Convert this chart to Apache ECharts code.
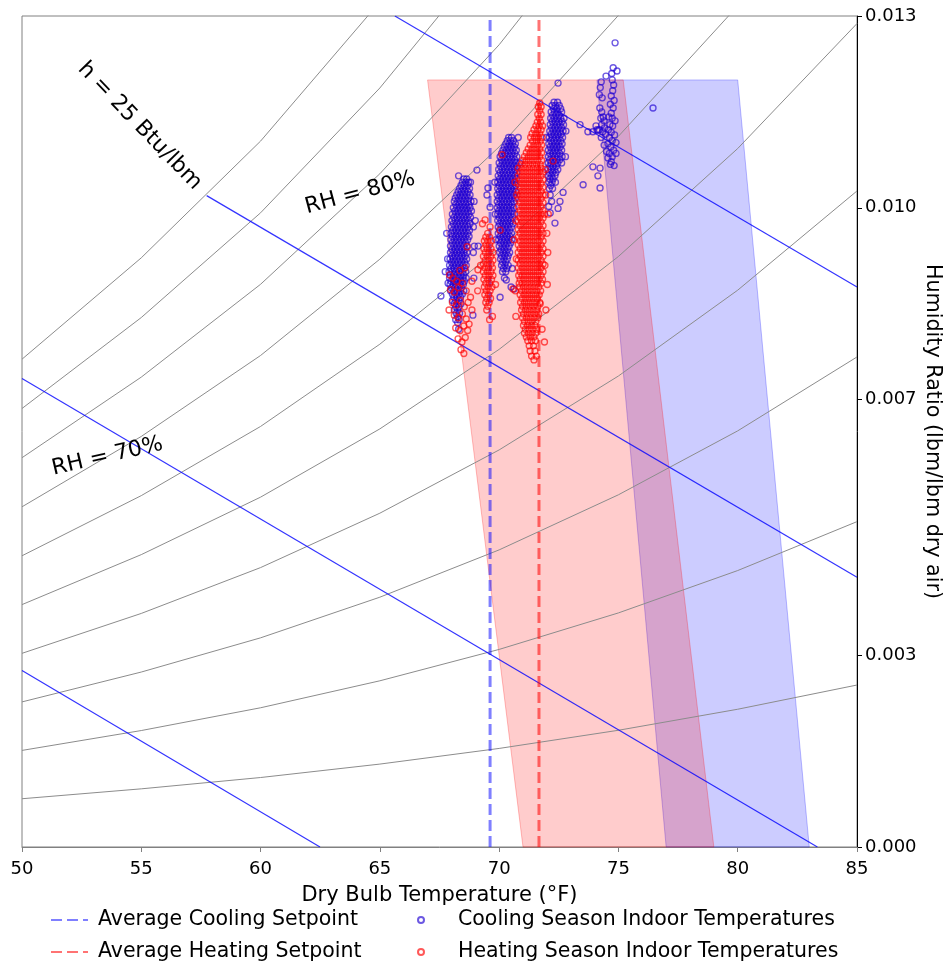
<!DOCTYPE html>
<html>
<head>
<meta charset="utf-8">
<script src="https://cdn.jsdelivr.net/npm/echarts@6/dist/echarts.min.js"></script>
<style>
html, body { margin: 0; padding: 0; background: #fff; }
#main { width: 943px; height: 964px; }
</style>
</head>
<body>
<div id="main"></div>
<script>
// dry bulb temperatures where the RH curves were sampled
var temps = [50, 55, 60, 65, 70, 75, 80, 85];
// humidity ratio of each relative humidity curve at those temperatures
var rh10 = [0.000755, 0.000910, 0.001087, 0.001297, 0.001542, 0.001826, 0.002155, 0.002534];
var rh20 = [0.001511, 0.001822, 0.002178, 0.002600, 0.003091, 0.003662, 0.004325, 0.005090];
var rh30 = [0.002270, 0.002737, 0.003272, 0.003908, 0.004648, 0.005510, 0.006510, 0.007666];
var rh40 = [0.003030, 0.003654, 0.004371, 0.005222, 0.006212, 0.007368, 0.008711, 0.010263];
var rh50 = [0.003792, 0.004574, 0.005473, 0.006541, 0.007785, 0.009238, 0.010927, 0.012882];
var rh60 = [0.004556, 0.005497, 0.006579, 0.007866, 0.009365, 0.011118, 0.013158, 0.015523];
var rh70 = [0.005322, 0.006423, 0.007689, 0.009196, 0.010953, 0.013010, 0.015405, 0.018186];
var rh80 = [0.006090, 0.007351, 0.008803, 0.010532, 0.012550, 0.014913, 0.017669, 0.020871];
var rh90 = [0.006860, 0.008283, 0.009921, 0.011874, 0.014154, 0.016828, 0.019948, 0.023578];
var rh100 = [0.007631, 0.009217, 0.011043, 0.013221, 0.015767, 0.018754, 0.022244, 0.026309];

// constant enthalpy lines (end points)
var h15 = [[50, 0.00276], [62.49, 0]];
var h20 = [[50, 0.00733], [83.34, 0]];
var h25 = [[57.74, 0.01019], [85, 0.00422]];
var h30 = [[65.63, 0.013], [85, 0.00876]];

// comfort zones
var heatingZone = [[67, 0.012], [75.2, 0.012], [79, 0], [71, 0]];
var coolingZone = [[74.1, 0.012], [80, 0.012], [83, 0], [77, 0]];

var coolingSetpoint = 69.62;
var heatingSetpoint = 71.67;

var yTicks = [0, 0.003, 0.007, 0.010, 0.013];

// cooling season indoor readings
var coolingA = [
[68.52,0.01045],[68.64,0.01045],
[68.46,0.0104],[68.6,0.0104],[68.72,0.0104],
[68.4,0.01035],[68.54,0.01035],[68.68,0.01035],
[68.34,0.0103],[68.48,0.0103],[68.62,0.0103],[68.76,0.0103],
[68.28,0.01025],[68.42,0.01025],[68.56,0.01025],[68.7,0.01025],
[68.22,0.0102],[68.36,0.0102],[68.5,0.0102],[68.64,0.0102],[68.78,0.0102],
[68.16,0.01015],[68.3,0.01015],[68.44,0.01015],[68.58,0.01015],[68.72,0.01015],
[68.12,0.0101],[68.26,0.0101],[68.4,0.0101],[68.54,0.0101],[68.68,0.0101],[68.82,0.0101],
[68.18,0.01005],[68.32,0.01005],[68.46,0.01005],[68.6,0.01005],[68.74,0.01005],
[68.08,0.01],[68.22,0.01],[68.36,0.01],[68.5,0.01],[68.64,0.01],[68.78,0.01],
[68.14,0.00995],[68.28,0.00995],[68.42,0.00995],[68.56,0.00995],[68.7,0.00995],[68.84,0.00995],
[68.04,0.0099],[68.18,0.0099],[68.32,0.0099],[68.46,0.0099],[68.6,0.0099],[68.74,0.0099],
[68.1,0.00985],[68.24,0.00985],[68.38,0.00985],[68.52,0.00985],[68.66,0.00985],[68.8,0.00985],
[68.02,0.0098],[68.16,0.0098],[68.3,0.0098],[68.44,0.0098],[68.58,0.0098],[68.72,0.0098],
[68.08,0.00975],[68.22,0.00975],[68.36,0.00975],[68.5,0.00975],[68.64,0.00975],[68.78,0.00975],
[68,0.0097],[68.14,0.0097],[68.28,0.0097],[68.42,0.0097],[68.56,0.0097],[68.7,0.0097],
[68.06,0.00965],[68.2,0.00965],[68.34,0.00965],[68.48,0.00965],[68.62,0.00965],[68.76,0.00965],
[67.98,0.0096],[68.12,0.0096],[68.26,0.0096],[68.4,0.0096],[68.54,0.0096],[68.68,0.0096],
[68.04,0.00955],[68.18,0.00955],[68.32,0.00955],[68.46,0.00955],[68.6,0.00955],[68.74,0.00955],
[67.98,0.0095],[68.12,0.0095],[68.26,0.0095],[68.4,0.0095],[68.54,0.0095],[68.68,0.0095],
[68.04,0.00945],[68.18,0.00945],[68.32,0.00945],[68.46,0.00945],[68.6,0.00945],
[67.96,0.0094],[68.1,0.0094],[68.24,0.0094],[68.38,0.0094],[68.52,0.0094],[68.66,0.0094],
[68.02,0.00935],[68.16,0.00935],[68.3,0.00935],[68.44,0.00935],[68.58,0.00935],
[67.96,0.0093],[68.1,0.0093],[68.24,0.0093],[68.38,0.0093],[68.52,0.0093],[68.66,0.0093],
[68.02,0.00925],[68.16,0.00925],[68.3,0.00925],[68.44,0.00925],[68.58,0.00925],
[67.94,0.0092],[68.08,0.0092],[68.22,0.0092],[68.36,0.0092],[68.5,0.0092],[68.64,0.0092],
[68,0.00915],[68.14,0.00915],[68.28,0.00915],[68.42,0.00915],[68.56,0.00915],
[67.92,0.0091],[68.06,0.0091],[68.2,0.0091],[68.34,0.0091],[68.48,0.0091],[68.62,0.0091],
[67.98,0.00905],[68.12,0.00905],[68.26,0.00905],[68.4,0.00905],[68.54,0.00905],
[67.9,0.009],[68.04,0.009],[68.18,0.009],[68.32,0.009],[68.46,0.009],[68.6,0.009],
[67.96,0.00895],[68.1,0.00895],[68.24,0.00895],[68.38,0.00895],[68.52,0.00895],
[67.92,0.0089],[68.06,0.0089],[68.2,0.0089],[68.34,0.0089],[68.48,0.0089],[68.62,0.0089],
[67.98,0.00885],[68.12,0.00885],[68.26,0.00885],[68.4,0.00885],[68.54,0.00885],
[67.94,0.0088],[68.08,0.0088],[68.22,0.0088],[68.36,0.0088],[68.5,0.0088],
[68,0.00875],[68.14,0.00875],[68.28,0.00875],[68.42,0.00875],
[67.96,0.0087],[68.1,0.0087],[68.24,0.0087],[68.38,0.0087],[68.52,0.0087],
[68.04,0.00865],[68.18,0.00865],[68.32,0.00865],[68.46,0.00865],
[68.1,0.0086],[68.24,0.0086],[68.38,0.0086],
[68.04,0.00855],[68.18,0.00855],[68.32,0.00855],
[68.12,0.0085],[68.26,0.0085],[68.4,0.0085],
[68.18,0.00845],[68.32,0.00845],
[68.12,0.0084],[68.26,0.0084],
[68.2,0.00835],[68.34,0.00835],
[68.26,0.0083],
[68.18,0.00825],[68.32,0.00825],
[68.26,0.0082],
[68.3,0.0081]
];
var coolingB = [
[70.4,0.0111],[70.52,0.0111],
[70.34,0.01105],[70.48,0.01105],[70.6,0.01105],
[70.28,0.011],[70.42,0.011],[70.56,0.011],[70.68,0.011],
[70.22,0.01095],[70.36,0.01095],[70.5,0.01095],[70.64,0.01095],
[70.16,0.0109],[70.3,0.0109],[70.44,0.0109],[70.58,0.0109],[70.72,0.0109],
[70.1,0.01085],[70.24,0.01085],[70.38,0.01085],[70.52,0.01085],[70.66,0.01085],
[70.04,0.0108],[70.18,0.0108],[70.32,0.0108],[70.46,0.0108],[70.6,0.0108],[70.74,0.0108],
[70.1,0.01075],[70.24,0.01075],[70.38,0.01075],[70.52,0.01075],[70.66,0.01075],
[70,0.0107],[70.14,0.0107],[70.28,0.0107],[70.42,0.0107],[70.56,0.0107],[70.7,0.0107],
[70.06,0.01065],[70.2,0.01065],[70.34,0.01065],[70.48,0.01065],[70.62,0.01065],[70.76,0.01065],
[69.98,0.0106],[70.12,0.0106],[70.26,0.0106],[70.4,0.0106],[70.54,0.0106],[70.68,0.0106],
[70.04,0.01055],[70.18,0.01055],[70.32,0.01055],[70.46,0.01055],[70.6,0.01055],[70.74,0.01055],
[69.96,0.0105],[70.1,0.0105],[70.24,0.0105],[70.38,0.0105],[70.52,0.0105],[70.66,0.0105],
[70.02,0.01045],[70.16,0.01045],[70.3,0.01045],[70.44,0.01045],[70.58,0.01045],[70.72,0.01045],
[69.94,0.0104],[70.08,0.0104],[70.22,0.0104],[70.36,0.0104],[70.5,0.0104],[70.64,0.0104],
[70,0.01035],[70.14,0.01035],[70.28,0.01035],[70.42,0.01035],[70.56,0.01035],[70.7,0.01035],
[69.94,0.0103],[70.08,0.0103],[70.22,0.0103],[70.36,0.0103],[70.5,0.0103],[70.64,0.0103],
[70,0.01025],[70.14,0.01025],[70.28,0.01025],[70.42,0.01025],[70.56,0.01025],[70.7,0.01025],
[69.92,0.0102],[70.06,0.0102],[70.2,0.0102],[70.34,0.0102],[70.48,0.0102],[70.62,0.0102],
[69.98,0.01015],[70.12,0.01015],[70.26,0.01015],[70.4,0.01015],[70.54,0.01015],[70.68,0.01015],
[69.92,0.0101],[70.06,0.0101],[70.2,0.0101],[70.34,0.0101],[70.48,0.0101],[70.62,0.0101],
[69.98,0.01005],[70.12,0.01005],[70.26,0.01005],[70.4,0.01005],[70.54,0.01005],
[69.92,0.01],[70.06,0.01],[70.2,0.01],[70.34,0.01],[70.48,0.01],[70.62,0.01],
[69.98,0.00995],[70.12,0.00995],[70.26,0.00995],[70.4,0.00995],[70.54,0.00995],
[69.94,0.0099],[70.08,0.0099],[70.22,0.0099],[70.36,0.0099],[70.5,0.0099],[70.64,0.0099],
[70,0.00985],[70.14,0.00985],[70.28,0.00985],[70.42,0.00985],[70.56,0.00985],
[69.94,0.0098],[70.08,0.0098],[70.22,0.0098],[70.36,0.0098],[70.5,0.0098],
[70.02,0.00975],[70.16,0.00975],[70.3,0.00975],[70.44,0.00975],[70.58,0.00975],
[69.96,0.0097],[70.1,0.0097],[70.24,0.0097],[70.38,0.0097],[70.52,0.0097],
[70.02,0.00965],[70.16,0.00965],[70.3,0.00965],[70.44,0.00965],
[69.96,0.0096],[70.1,0.0096],[70.24,0.0096],[70.38,0.0096],[70.52,0.0096],
[70.04,0.00955],[70.18,0.00955],[70.32,0.00955],[70.46,0.00955],
[69.98,0.0095],[70.12,0.0095],[70.26,0.0095],[70.4,0.0095],[70.54,0.0095],
[70.06,0.00945],[70.2,0.00945],[70.34,0.00945],[70.48,0.00945],
[70,0.0094],[70.14,0.0094],[70.28,0.0094],[70.42,0.0094],
[70.08,0.00935],[70.22,0.00935],[70.36,0.00935],
[70.02,0.0093],[70.16,0.0093],[70.3,0.0093],[70.44,0.0093],
[70.1,0.00925],[70.24,0.00925],[70.38,0.00925],
[70.06,0.0092],[70.2,0.0092],[70.34,0.0092],
[70.14,0.00915],[70.28,0.00915],
[70.1,0.0091],[70.24,0.0091],[70.38,0.0091],
[70.18,0.00905],[70.32,0.00905],
[70.14,0.009],[70.28,0.009],
[70.22,0.0089]
];
var coolingC = [
[72.3,0.01165],[72.45,0.01165],
[72.22,0.0116],[72.36,0.0116],[72.52,0.0116],
[72.28,0.01155],[72.42,0.01155],[72.58,0.01155],
[72.18,0.0115],[72.32,0.0115],[72.46,0.0115],[72.62,0.0115],
[72.24,0.01145],[72.38,0.01145],[72.52,0.01145],
[72.16,0.0114],[72.3,0.0114],[72.44,0.0114],[72.58,0.0114],[72.72,0.0114],
[72.22,0.01135],[72.36,0.01135],[72.5,0.01135],[72.64,0.01135],
[72.14,0.0113],[72.28,0.0113],[72.42,0.0113],[72.56,0.0113],[72.7,0.0113],
[72.2,0.01125],[72.34,0.01125],[72.48,0.01125],[72.62,0.01125],
[72.12,0.0112],[72.26,0.0112],[72.4,0.0112],[72.54,0.0112],[72.68,0.0112],
[72.18,0.01115],[72.32,0.01115],[72.46,0.01115],[72.6,0.01115],
[72.1,0.0111],[72.24,0.0111],[72.38,0.0111],[72.52,0.0111],[72.66,0.0111],
[72.16,0.01105],[72.3,0.01105],[72.44,0.01105],[72.58,0.01105],
[72.08,0.011],[72.22,0.011],[72.36,0.011],[72.5,0.011],[72.64,0.011],
[72.14,0.01095],[72.28,0.01095],[72.42,0.01095],[72.56,0.01095],
[72.06,0.0109],[72.2,0.0109],[72.34,0.0109],[72.48,0.0109],[72.62,0.0109],
[72.12,0.01085],[72.26,0.01085],[72.4,0.01085],[72.54,0.01085],
[72.06,0.0108],[72.2,0.0108],[72.34,0.0108],[72.48,0.0108],[72.64,0.0108],
[72.12,0.01075],[72.26,0.01075],[72.4,0.01075],[72.54,0.01075],
[72.05,0.0107],[72.18,0.0107],[72.32,0.0107],[72.46,0.0107],[72.62,0.0107],
[72.12,0.01065],[72.26,0.01065],[72.4,0.01065],
[72.04,0.0106],[72.18,0.0106],[72.32,0.0106],[72.46,0.0106],
[72.1,0.01055],[72.24,0.01055],[72.38,0.01055],
[72.06,0.0105],[72.2,0.0105],[72.34,0.0105],
[72.12,0.01045],[72.26,0.01045],
[72.08,0.0104],[72.22,0.0104],[72.36,0.0104],
[72.16,0.01035],
[72.1,0.0103],[72.24,0.0103],
[72.14,0.0102],
[72.2,0.0101]
];
var coolingD = [
[74.28,0.01197],[74.24,0.01188],[74.2,0.01177],[74.32,0.01172],[74.22,0.01156],[74.3,0.0115],
[74.36,0.01142],[74.26,0.0114],[74.4,0.01136],[74.3,0.0113],[74.42,0.01125],[74.34,0.01119],
[74.46,0.01115],[74.2,0.01122],
[74.78,0.01219],[74.72,0.0121],[74.74,0.012],[74.8,0.01192],[74.76,0.01183],[74.7,0.01175],
[74.82,0.01168],[74.66,0.01162],[74.78,0.01156],[74.7,0.01148],[74.6,0.01142],[74.74,0.0114],
[74.86,0.01136],[74.64,0.0113],[74.76,0.01128],[74.58,0.01122],[74.7,0.01118],[74.84,0.01114],
[74.62,0.0111],[74.74,0.01105],[74.9,0.01102],[74.56,0.011],[74.68,0.01095],[74.8,0.0109],
[74.62,0.01085],[74.74,0.0108],[74.9,0.01085],[74.7,0.01072],[74.82,0.01066],
[74.06,0.01128],[74.14,0.01121],[74.28,0.0111],[74.4,0.01098],[74.5,0.01088],[74.56,0.01078],[74.66,0.01068]
];
var coolingOther = [
[67.56,0.00862],[67.74,0.009],[67.86,0.00882],[69.07,0.01059],[69.53,0.01031],[69.49,0.0102],
[69.62,0.01001],[70.04,0.0086],[68.9,0.00832],[70.3,0.00887],[70.5,0.00876],[70.62,0.00873],
[70.55,0.00905],[68.95,0.0101],[69,0.0098],[68.92,0.0093],[69.12,0.0094],
[72.47,0.01195],[73.39,0.0113],[73.72,0.01119],[73.93,0.01119],[74.1,0.01122],[73.93,0.01064],
[73.52,0.01036],[74.23,0.01031],[74.14,0.0105],[74.23,0.01062],[72.55,0.0101],[72.34,0.00976],
[72.47,0.00999],[72.14,0.00992],[72.68,0.01024],[72.08,0.01002],[74.86,0.01258],[76.45,0.01156],
[74.94,0.01214],[74.48,0.01206],
[67.8,0.0096],[67.84,0.0092],[68.92,0.0097],[68.96,0.0094],[68.94,0.0089],[68.8,0.0104],
[68.3,0.0105],[69.82,0.0104],[69.84,0.0099],[69.86,0.0095],[70.86,0.0107],[70.8,0.0111],
[72.8,0.0112],[72.78,0.0108],[71.98,0.0111]
];

// heating season indoor readings
var heatingE = [
[67.92,0.00895],[68.06,0.0089],[68.22,0.00885],[67.96,0.00872],[68.12,0.00868],[68.3,0.00875],
[68.46,0.00882],[68.62,0.0087],[68.04,0.00852],[68.2,0.00848],[68.38,0.00855],[68.54,0.00845],
[68.7,0.00852],[67.9,0.0084],[68.12,0.00832],[68.28,0.00828],[68.46,0.00834],[68.62,0.00826],
[68.18,0.00812],[68.36,0.00808],[68.52,0.00815],[68.68,0.00808],[68.28,0.00795],[68.44,0.0079],
[68.58,0.00797],[68.4,0.00778],[68.52,0.00772],[68.66,0.00939],[68.57,0.00906],[68.8,0.0086],
[68.86,0.00885],[68.74,0.00818],[68.36,0.00902]
];
var heatingF = [
[69.52,0.0096],
[69.44,0.00954],[69.6,0.00954],
[69.38,0.00948],[69.52,0.00948],[69.68,0.00948],
[69.44,0.00942],[69.6,0.00942],
[69.36,0.00936],[69.5,0.00936],[69.66,0.00936],
[69.42,0.0093],[69.58,0.0093],[69.74,0.0093],
[69.34,0.00924],[69.5,0.00924],[69.66,0.00924],
[69.42,0.00918],[69.58,0.00918],[69.74,0.00918],
[69.34,0.00912],[69.5,0.00912],[69.66,0.00912],
[69.4,0.00906],[69.56,0.00906],[69.72,0.00906],
[69.34,0.009],[69.5,0.009],[69.66,0.009],
[69.42,0.00894],[69.58,0.00894],[69.74,0.00894],
[69.36,0.00888],[69.52,0.00888],[69.68,0.00888],
[69.44,0.00882],[69.6,0.00882],
[69.38,0.00876],[69.54,0.00876],[69.7,0.00876],
[69.46,0.0087],[69.62,0.0087],
[69.4,0.00864],[69.56,0.00864],
[69.48,0.00858],[69.64,0.00858],
[69.44,0.00852],[69.58,0.00852],
[69.52,0.00846],
[69.48,0.0084],
[69.3,0.00975],[69.41,0.00981],[69.62,0.0097],[70.04,0.00965],[69.22,0.0091],[69.85,0.0088],
[69.1,0.0087],[69.72,0.0083],[69.6,0.00825],[69.11,0.00903],[68.86,0.0084]
];
var heatingG = [
[71.7,0.01164],
[71.64,0.01158],[71.76,0.01158],
[71.7,0.01152],
[71.62,0.01146],[71.76,0.01146],
[71.68,0.0114],
[71.6,0.01134],[71.74,0.01134],
[71.54,0.01128],[71.68,0.01128],[71.82,0.01128],
[71.46,0.01122],[71.62,0.01122],[71.76,0.01122],
[71.38,0.01116],[71.54,0.01116],[71.7,0.01116],
[71.32,0.0111],[71.48,0.0111],[71.64,0.0111],[71.8,0.0111],
[71.4,0.01104],[71.56,0.01104],[71.72,0.01104],
[71.3,0.01098],[71.46,0.01098],[71.62,0.01098],[71.78,0.01098],
[71.22,0.01092],[71.38,0.01092],[71.54,0.01092],[71.7,0.01092],
[71.14,0.01086],[71.3,0.01086],[71.46,0.01086],[71.62,0.01086],[71.78,0.01086],
[71.06,0.0108],[71.22,0.0108],[71.38,0.0108],[71.54,0.0108],[71.7,0.0108],
[70.98,0.01074],[71.14,0.01074],[71.3,0.01074],[71.46,0.01074],[71.62,0.01074],[71.78,0.01074],
[70.92,0.01068],[71.08,0.01068],[71.24,0.01068],[71.4,0.01068],[71.56,0.01068],[71.72,0.01068],
[70.8,0.01062],[70.96,0.01062],[71.12,0.01062],[71.28,0.01062],[71.44,0.01062],[71.6,0.01062],[71.76,0.01062],
[70.88,0.01056],[71.04,0.01056],[71.2,0.01056],[71.36,0.01056],[71.52,0.01056],[71.68,0.01056],[71.84,0.01056],
[70.8,0.0105],[70.96,0.0105],[71.12,0.0105],[71.28,0.0105],[71.44,0.0105],[71.6,0.0105],[71.76,0.0105],
[70.88,0.01044],[71.04,0.01044],[71.2,0.01044],[71.36,0.01044],[71.52,0.01044],[71.68,0.01044],[71.84,0.01044],
[70.8,0.01038],[70.96,0.01038],[71.12,0.01038],[71.28,0.01038],[71.44,0.01038],[71.6,0.01038],[71.76,0.01038],
[70.88,0.01032],[71.04,0.01032],[71.2,0.01032],[71.36,0.01032],[71.52,0.01032],[71.68,0.01032],[71.84,0.01032],
[70.8,0.01026],[70.96,0.01026],[71.12,0.01026],[71.28,0.01026],[71.44,0.01026],[71.6,0.01026],[71.76,0.01026],
[70.88,0.0102],[71.04,0.0102],[71.2,0.0102],[71.36,0.0102],[71.52,0.0102],[71.68,0.0102],[71.84,0.0102],
[70.8,0.01014],[70.96,0.01014],[71.12,0.01014],[71.28,0.01014],[71.44,0.01014],[71.6,0.01014],[71.76,0.01014],
[70.88,0.01008],[71.04,0.01008],[71.2,0.01008],[71.36,0.01008],[71.52,0.01008],[71.68,0.01008],[71.84,0.01008],
[70.8,0.01002],[70.96,0.01002],[71.12,0.01002],[71.28,0.01002],[71.44,0.01002],[71.6,0.01002],[71.76,0.01002],
[70.88,0.00996],[71.04,0.00996],[71.2,0.00996],[71.36,0.00996],[71.52,0.00996],[71.68,0.00996],[71.84,0.00996],
[70.8,0.0099],[70.96,0.0099],[71.12,0.0099],[71.28,0.0099],[71.44,0.0099],[71.6,0.0099],[71.76,0.0099],
[70.88,0.00984],[71.04,0.00984],[71.2,0.00984],[71.36,0.00984],[71.52,0.00984],[71.68,0.00984],[71.84,0.00984],
[70.8,0.00978],[70.96,0.00978],[71.12,0.00978],[71.28,0.00978],[71.44,0.00978],[71.6,0.00978],[71.76,0.00978],
[70.88,0.00972],[71.04,0.00972],[71.2,0.00972],[71.36,0.00972],[71.52,0.00972],[71.68,0.00972],[71.84,0.00972],
[70.8,0.00966],[70.96,0.00966],[71.12,0.00966],[71.28,0.00966],[71.44,0.00966],[71.6,0.00966],[71.76,0.00966],
[70.88,0.0096],[71.04,0.0096],[71.2,0.0096],[71.36,0.0096],[71.52,0.0096],[71.68,0.0096],[71.84,0.0096],
[70.8,0.00954],[70.96,0.00954],[71.12,0.00954],[71.28,0.00954],[71.44,0.00954],[71.6,0.00954],[71.76,0.00954],
[70.88,0.00948],[71.04,0.00948],[71.2,0.00948],[71.36,0.00948],[71.52,0.00948],[71.68,0.00948],[71.84,0.00948],
[70.8,0.00942],[70.96,0.00942],[71.12,0.00942],[71.28,0.00942],[71.44,0.00942],[71.6,0.00942],[71.76,0.00942],
[70.88,0.00936],[71.04,0.00936],[71.2,0.00936],[71.36,0.00936],[71.52,0.00936],[71.68,0.00936],[71.84,0.00936],
[70.8,0.0093],[70.96,0.0093],[71.12,0.0093],[71.28,0.0093],[71.44,0.0093],[71.6,0.0093],[71.76,0.0093],
[70.88,0.00924],[71.04,0.00924],[71.2,0.00924],[71.36,0.00924],[71.52,0.00924],[71.68,0.00924],[71.84,0.00924],
[70.8,0.00918],[70.96,0.00918],[71.12,0.00918],[71.28,0.00918],[71.44,0.00918],[71.6,0.00918],[71.76,0.00918],
[70.88,0.00912],[71.04,0.00912],[71.2,0.00912],[71.36,0.00912],[71.52,0.00912],[71.68,0.00912],[71.84,0.00912],
[70.8,0.00906],[70.96,0.00906],[71.12,0.00906],[71.28,0.00906],[71.44,0.00906],[71.6,0.00906],[71.76,0.00906],
[70.88,0.009],[71.04,0.009],[71.2,0.009],[71.36,0.009],[71.52,0.009],[71.68,0.009],[71.84,0.009],
[70.82,0.00894],[70.96,0.00894],[71.12,0.00894],[71.28,0.00894],[71.44,0.00894],[71.6,0.00894],[71.76,0.00894],
[70.88,0.00888],[71.04,0.00888],[71.2,0.00888],[71.36,0.00888],[71.52,0.00888],[71.68,0.00888],[71.82,0.00888],
[70.84,0.00882],[70.96,0.00882],[71.12,0.00882],[71.28,0.00882],[71.44,0.00882],[71.6,0.00882],[71.76,0.00882],
[70.86,0.00876],[71.02,0.00876],[71.18,0.00876],[71.34,0.00876],[71.5,0.00876],[71.66,0.00876],
[70.94,0.0087],[71.1,0.0087],[71.26,0.0087],[71.42,0.0087],[71.58,0.0087],[71.74,0.0087],
[70.88,0.00864],[71.04,0.00864],[71.2,0.00864],[71.36,0.00864],[71.52,0.00864],[71.68,0.00864],
[70.96,0.00858],[71.12,0.00858],[71.28,0.00858],[71.44,0.00858],[71.6,0.00858],
[70.9,0.00852],[71.06,0.00852],[71.22,0.00852],[71.38,0.00852],[71.54,0.00852],[71.7,0.00852],
[70.98,0.00846],[71.14,0.00846],[71.3,0.00846],[71.46,0.00846],[71.62,0.00846],
[70.94,0.0084],[71.1,0.0084],[71.26,0.0084],[71.42,0.0084],[71.58,0.0084],
[71.02,0.00834],[71.18,0.00834],[71.34,0.00834],[71.5,0.00834],[71.66,0.00834],
[70.98,0.00828],[71.14,0.00828],[71.3,0.00828],[71.46,0.00828],[71.62,0.00828],
[71.06,0.00822],[71.22,0.00822],[71.38,0.00822],[71.54,0.00822],
[71.02,0.00816],[71.18,0.00816],[71.34,0.00816],[71.5,0.00816],
[71.1,0.0081],[71.26,0.0081],[71.42,0.0081],[71.58,0.0081],
[71.06,0.00804],[71.22,0.00804],[71.38,0.00804],[71.54,0.00804],
[71.14,0.00798],[71.3,0.00798],[71.46,0.00798],
[71.2,0.00792],[71.36,0.00792],[71.52,0.00792],
[71.26,0.00784],[71.44,0.00784],
[71.3,0.00776],[71.5,0.00776],
[71.36,0.00768],[71.56,0.00768],
[71.46,0.00762]
];
var heatingOther = [
[70.12,0.01083],[70.58,0.00873],[72.26,0.01073],[71.95,0.0102],[72,0.0096],[71.92,0.0091],
[72.02,0.0088],[71.96,0.0084],[71.9,0.0099],[71.94,0.0106],[70.7,0.0098],[70.72,0.0092],
[70.68,0.0087],[70.74,0.0102],[71.72,0.0085],[71.8,0.0081],
[70.66,0.0104],[70.62,0.0095],[72.04,0.0093],[72.06,0.0099],[70.7,0.0083],[71.9,0.0079]
];

var fontFamily = '"DejaVu Sans", sans-serif';

function curvePoints(ws) {
    return temps.map(function (t, i) { return [t, ws[i]]; });
}

function zoneSeries(points, fill, stroke) {
    return {
        type: 'custom',
        coordinateSystem: 'cartesian2d',
        silent: true,
        z: 1,
        data: [points[0]],
        renderItem: function (params, api) {
            return {
                type: 'polygon',
                shape: { points: points.map(function (p) { return api.coord(p); }) },
                style: { fill: fill, stroke: stroke, lineWidth: 1 }
            };
        }
    };
}

var series = [];
series.push(zoneSeries(coolingZone, 'rgba(0,0,255,0.2)', 'rgba(0,0,255,0.25)'));
series.push(zoneSeries(heatingZone, 'rgba(255,0,0,0.2)', 'rgba(255,0,0,0.25)'));

[rh10, rh20, rh30, rh40, rh50, rh60, rh70, rh80, rh90, rh100].forEach(function (ws) {
    series.push({
        type: 'line', data: curvePoints(ws), symbol: 'none', silent: true, z: 2,
        lineStyle: { color: '#8c8c8c', width: 1 }
    });
});

[h15, h20, h25, h30].forEach(function (pts) {
    series.push({
        type: 'line', data: pts, symbol: 'none', silent: true, z: 2,
        lineStyle: { color: 'rgba(0,0,255,0.8)', width: 1.2 }
    });
});

series.push({
    name: 'Average Cooling Setpoint', type: 'line', symbol: 'none', silent: true, z: 3,
    data: [[coolingSetpoint, 0], [coolingSetpoint, 0.013]],
    itemStyle: { color: 'rgba(0,0,0,0)', opacity: 0 },
    lineStyle: { color: 'rgba(0,0,255,0.5)', width: 3, type: [11, 5] }
});
series.push({
    name: 'Average Heating Setpoint', type: 'line', symbol: 'none', silent: true, z: 3,
    data: [[heatingSetpoint, 0], [heatingSetpoint, 0.013]],
    itemStyle: { color: 'rgba(0,0,0,0)', opacity: 0 },
    lineStyle: { color: 'rgba(255,0,0,0.55)', width: 3, type: [11, 5] }
});

series.push({
    name: 'Cooling Season Indoor Temperatures', type: 'scatter', silent: true, z: 4,
    symbol: 'circle', symbolSize: 6,
    data: coolingA.concat(coolingB, coolingC, coolingD, coolingOther),
    itemStyle: { color: 'rgba(0,0,0,0)', borderColor: 'rgba(30,0,210,0.82)', borderWidth: 1.35 }
});
series.push({
    name: 'Heating Season Indoor Temperatures', type: 'scatter', silent: true, z: 5,
    symbol: 'circle', symbolSize: 6,
    data: heatingE.concat(heatingF, heatingG, heatingOther),
    itemStyle: { color: 'rgba(0,0,0,0)', borderColor: 'rgba(255,0,0,0.82)', borderWidth: 1.35 }
});

var chart = echarts.init(document.getElementById('main'));
chart.setOption({
    animation: false,
    backgroundColor: '#fff',
    textStyle: { fontFamily: fontFamily },
    grid: {
        left: 22, right: 86, top: 16, bottom: 117,
        show: true, borderColor: '#808080', borderWidth: 1,
        outerBoundsMode: 'none'
    },
    xAxis: {
        type: 'value', min: 50, max: 85, interval: 5,
        name: 'Dry Bulb Temperature (°F)', nameLocation: 'middle', nameGap: 38,
        nameMoveOverlap: false,
        nameTextStyle: { fontSize: 21, color: '#000', fontFamily: fontFamily },
        axisLine: { show: true, lineStyle: { color: '#808080', width: 1 } },
        axisTick: { show: true, length: 5, lineStyle: { color: '#808080' } },
        axisLabel: { fontSize: 18, color: '#000', margin: 13, fontFamily: fontFamily },
        splitLine: { show: false }
    },
    yAxis: {
        type: 'value', position: 'right', min: 0, max: 0.013,
        name: 'Humidity Ratio (lbm/lbm dry air)', nameLocation: 'middle', nameGap: 65, nameRotate: -90,
        nameMoveOverlap: false,
        nameTextStyle: { fontSize: 20.7, color: '#000', fontFamily: fontFamily },
        axisLine: { show: true, lineStyle: { color: '#000', width: 1 } },
        axisTick: { show: true, length: 5, customValues: yTicks, lineStyle: { color: '#000' } },
        axisLabel: {
            fontSize: 18, color: '#000', margin: 8, fontFamily: fontFamily,
            customValues: yTicks,
            formatter: function (v) { return v.toFixed(3); }
        },
        splitLine: { show: false }
    },
    legend: [{
        data: ['Average Cooling Setpoint', 'Average Heating Setpoint'],
        orient: 'vertical', left: 50, top: 909, padding: 0,
        itemWidth: 37, itemHeight: 14, itemGap: 10, selectedMode: false,
        itemStyle: { opacity: 0 },
        textStyle: { fontSize: 20.5, color: '#000', lineHeight: 22, fontFamily: fontFamily, padding: [0, 0, 0, 5] }
    }, {
        data: ['Cooling Season Indoor Temperatures', 'Heating Season Indoor Temperatures'],
        orient: 'vertical', left: 417, top: 909, padding: 0,
        itemWidth: 12, itemHeight: 6, itemGap: 10, selectedMode: false,
        textStyle: { fontSize: 20.5, color: '#000', lineHeight: 22, fontFamily: fontFamily, padding: [0, 0, 0, 26] }
    }],
    series: series
});

// annotations placed in data space, then converted to pixels
var notes = [
    { text: 'h = 25 Btu/lbm', at: [54.93, 0.01128], angle: -46 },
    { text: 'RH = 80%', at: [64.17, 0.01023], angle: 15 },
    { text: 'RH = 70%', at: [53.58, 0.00611], angle: 13 }
];
chart.setOption({
    graphic: notes.map(function (n) {
        var p = chart.convertToPixel({ gridIndex: 0 }, n.at);
        return {
            type: 'text', x: p[0], y: p[1], rotation: n.angle * Math.PI / 180, silent: true, z: 10,
            style: { text: n.text, fill: '#000', font: '22px "DejaVu Sans", sans-serif', align: 'center', verticalAlign: 'middle' }
        };
    })
});
</script>
</body>
</html>
